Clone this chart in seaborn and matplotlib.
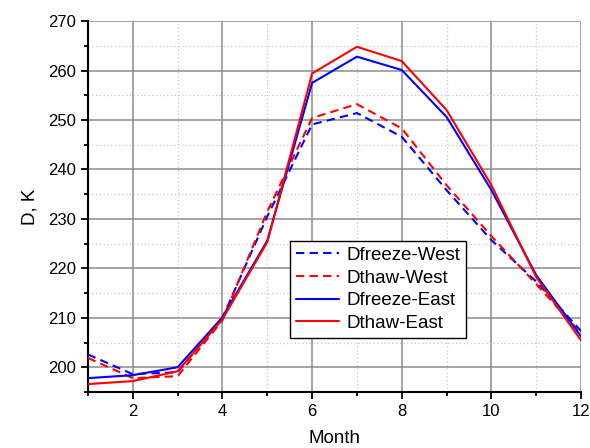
import pandas as pd
import numpy as np
import matplotlib
matplotlib.use('Agg')
import matplotlib.pyplot as plt
from matplotlib.ticker import MultipleLocator
import seaborn as sns

# valores
meses = list(range(1, 13))
dfreeze_west = [202.6, 198.6, 199.0, 210.0, 230.5, 249.1, 251.4, 246.6, 235.8, 225.7, 217.3, 207.3]
dthaw_west = [201.9, 197.8, 198.2, 209.5, 231.5, 250.4, 253.2, 248.3, 236.8, 226.5, 216.8, 206.8]
dfreeze_east = [197.8, 198.4, 200.0, 210.1, 225.6, 257.5, 262.8, 260.1, 250.6, 235.8, 218.6, 206.2]
dthaw_east = [196.6, 197.2, 199.2, 209.7, 225.3, 259.4, 264.8, 261.9, 252.0, 236.8, 218.2, 205.4]

series = ['Dfreeze-West', 'Dthaw-West', 'Dfreeze-East', 'Dthaw-East']
valores = [dfreeze_west, dthaw_west, dfreeze_east, dthaw_east]

df = pd.DataFrame({
    'Month': meses * 4,
    'D': np.concatenate(valores),
    'serie': np.repeat(series, 12),
})

sns.set_style('white')
plt.rcParams['font.family'] = ['Liberation Sans', 'DejaVu Sans']
plt.rcParams['text.color'] = 'black'
plt.rcParams['axes.labelcolor'] = 'black'

fig = plt.figure(figsize=(5.9, 4.48), dpi=100)
ax = fig.add_axes([0.149, 0.125, 0.836, 0.828])

cores = {'Dfreeze-West': '#0000ff', 'Dthaw-West': '#ff0000',
         'Dfreeze-East': '#0000ff', 'Dthaw-East': '#ff0000'}
tracos = {'Dfreeze-West': (4, 2.5), 'Dthaw-West': (4, 2.5),
          'Dfreeze-East': '', 'Dthaw-East': ''}

sns.lineplot(data=df, x='Month', y='D', hue='serie', style='serie',
             hue_order=series, style_order=series,
             palette=cores, dashes=tracos, linewidth=1.5, ax=ax, zorder=3)

ax.set_xlim(1, 12)
ax.set_ylim(195, 270)
ax.xaxis.set_major_locator(MultipleLocator(2))
ax.xaxis.set_minor_locator(MultipleLocator(1))
ax.yaxis.set_major_locator(MultipleLocator(10))
ax.yaxis.set_minor_locator(MultipleLocator(5))

ax.grid(which='major', color='#8c8c8c', linewidth=1.1, linestyle='-')
ax.grid(which='minor', color='#c8c8c8', linewidth=0.9, linestyle=(0, (1, 2)))
ax.set_axisbelow(True)

for lado in ['top', 'right']:
    ax.spines[lado].set_visible(False)
for lado in ['left', 'bottom']:
    ax.spines[lado].set_linewidth(1.5)
    ax.spines[lado].set_color('black')

ax.tick_params(which='major', direction='out', length=5, width=1.3, labelsize=12,
               left=True, bottom=True, colors='black')
ax.tick_params(which='minor', direction='out', length=3, width=1.3,
               left=True, bottom=True, colors='black')

ax.set_xlabel('Month', fontsize=13.5, labelpad=8)
ax.set_ylabel('D, K', fontsize=13.5, labelpad=7)

leg = ax.legend(loc='upper left', bbox_to_anchor=(0.41, 0.407), fontsize=13.5,
                frameon=True, fancybox=False, edgecolor='black', framealpha=1,
                handlelength=2.3, handletextpad=0.4, borderpad=0.3,
                labelspacing=0.3, borderaxespad=0)
leg.get_frame().set_linewidth(1.0)

fig.savefig('out.png', dpi=100)
